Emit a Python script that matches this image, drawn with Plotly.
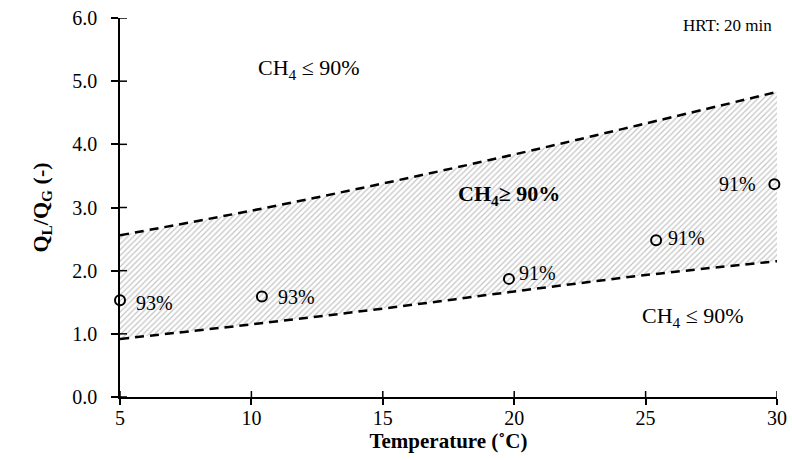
import plotly.graph_objects as go

# Operating window boundaries (liquid/gas flow ratio vs temperature)
temp_grid = [5, 10, 15, 20, 25, 30]
upper_bound = [2.56, 2.95, 3.38, 3.84, 4.33, 4.83]
lower_bound = [0.92, 1.15, 1.40, 1.67, 1.93, 2.15]

# Measured operating points and CH4 purity achieved
temp_pts = [5.0, 10.4, 19.8, 25.4, 29.9]
ratio_pts = [1.53, 1.59, 1.87, 2.48, 3.37]
purity_labels = ["93%", "93%", "91%", "91%", "91%"]

x_ticks = [5, 10, 15, 20, 25, 30]
y_ticks = [0, 1, 2, 3, 4, 5, 6]
y_tick_text = ["0.0", "1.0", "2.0", "3.0", "4.0", "5.0", "6.0"]

FONT = "Liberation Serif"

fig = go.Figure()

fig.add_trace(go.Scatter(
    x=temp_grid, y=lower_bound, mode="lines",
    line=dict(color="black", width=2.5, dash="9px,6px", shape="spline"),
    showlegend=False, hoverinfo="skip",
))
fig.add_trace(go.Scatter(
    x=temp_grid, y=upper_bound, mode="lines",
    line=dict(color="black", width=2.5, dash="9px,6px", shape="spline"),
    fill="tonexty", fillcolor="rgba(255,255,255,0)",
    fillpattern=dict(shape="/", fgcolor="#8a8a8a", bgcolor="white", size=4, solidity=0.3),
    showlegend=False, hoverinfo="skip",
))
fig.add_trace(go.Scatter(
    x=temp_pts, y=ratio_pts, mode="markers",
    marker=dict(symbol="circle-open", size=10, color="black", line=dict(width=2)),
    cliponaxis=False, showlegend=False,
))

# Cross-style tick marks (inner half; outer half comes from the axes)
shapes = []
for t in x_ticks:
    shapes.append(dict(type="line", xref="x", yref="y", x0=t, x1=t,
                       ysizemode="pixel", yanchor=0, y0=0, y1=6,
                       line=dict(color="black", width=1.5)))
for v in y_ticks:
    shapes.append(dict(type="line", xref="x", yref="y", y0=v, y1=v,
                       xsizemode="pixel", xanchor=5, x0=0, x1=7,
                       line=dict(color="black", width=1.5)))

# Purity labels beside each operating point
label_anchor = ["left", "left", "left", "left", "right"]
label_dx = [14, 14, 8, 10, -16]
label_dy = [-3, 0, 6, 2, 0]
annotations = []
for tx, ry, lab, anc, dx, dy in zip(temp_pts, ratio_pts, purity_labels,
                                    label_anchor, label_dx, label_dy):
    annotations.append(dict(x=tx, y=ry, text=lab, showarrow=False,
                            xanchor=anc, xshift=dx, yshift=dy,
                            font=dict(family=FONT, size=20, color="black")))

annotations += [
    dict(x=28.1, y=5.88, text="HRT: 20 min", showarrow=False,
         font=dict(family=FONT, size=17, color="black")),
    dict(x=12.2, y=5.2, text="CH<sub>4</sub> ≤ 90%", showarrow=False,
         font=dict(family=FONT, size=22, color="black")),
    dict(x=19.8, y=3.2, text="<b>CH<sub>4</sub>≥ 90%</b>", showarrow=False,
         font=dict(family=FONT, size=22, color="black")),
    dict(x=26.8, y=1.27, text="CH<sub>4</sub> ≤ 90%", showarrow=False,
         font=dict(family=FONT, size=22, color="black")),
]

fig.update_layout(
    width=792, height=460,
    margin=dict(l=120, r=15, t=18, b=63),
    plot_bgcolor="white", paper_bgcolor="white",
    font=dict(family=FONT, size=20, color="black"),
    shapes=shapes, annotations=annotations,
    xaxis=dict(
        range=[5, 30], tickvals=x_ticks, showgrid=False, zeroline=False,
        showline=True, linecolor="black", linewidth=1.5, automargin=False,
        ticks="outside", ticklen=6, tickwidth=1.5, tickcolor="black",
        tickfont=dict(family=FONT, size=20), ticklabelstandoff=-4,
        title=dict(text="<b>Temperature (˚C)</b>", font=dict(family=FONT, size=21), standoff=0),
    ),
    yaxis=dict(
        range=[0, 6], tickvals=y_ticks, ticktext=y_tick_text, showgrid=False, zeroline=False,
        showline=True, linecolor="black", linewidth=1.5, automargin=False,
        ticks="outside", ticklen=7, tickwidth=1.5, tickcolor="black",
        tickfont=dict(family=FONT, size=20), ticklabelstandoff=10,
        title=dict(text="<b>Q<sub>L</sub>/Q<sub>G</sub> (-)</b>", font=dict(family=FONT, size=22), standoff=18),
    ),
)

fig.write_html("out.html")
